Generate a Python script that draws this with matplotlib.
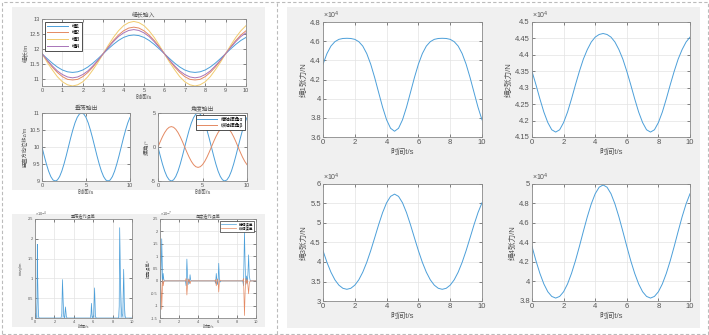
import matplotlib.pyplot as plt
import numpy as np
from matplotlib.patches import Rectangle
from matplotlib.ticker import FuncFormatter

plt.rcParams['font.family'] = ['Liberation Sans', 'Noto Sans CJK SC']
plt.rcParams['axes.unicode_minus'] = False

W, H = 709, 335

# sample times, 0.25 s step over 10 s
t = np.arange(41) * 0.25

# rope length input (m)
rope1 = [11.85, 11.69, 11.54, 11.41, 11.31, 11.25, 11.23, 11.25, 11.31, 11.41, 11.54, 11.69, 11.85, 12.01,
         12.16, 12.29, 12.39, 12.45, 12.47, 12.45, 12.39, 12.29, 12.16, 12.01, 11.85, 11.69, 11.54, 11.41,
         11.31, 11.25, 11.23, 11.25, 11.31, 11.41, 11.54, 11.69, 11.85, 12.01, 12.16, 12.29, 12.39]
rope2 = [11.85, 11.62, 11.41, 11.23, 11.09, 11.00, 10.98, 11.00, 11.09, 11.23, 11.41, 11.62, 11.85, 12.08,
         12.29, 12.47, 12.61, 12.70, 12.73, 12.70, 12.61, 12.47, 12.29, 12.08, 11.85, 11.62, 11.41, 11.23,
         11.09, 11.00, 10.98, 11.00, 11.09, 11.23, 11.41, 11.62, 11.85, 12.08, 12.29, 12.47, 12.61]
rope3 = [11.85, 11.57, 11.32, 11.09, 10.92, 10.82, 10.78, 10.82, 10.92, 11.09, 11.32, 11.57, 11.85, 12.13,
         12.39, 12.61, 12.78, 12.88, 12.92, 12.88, 12.78, 12.61, 12.39, 12.13, 11.85, 11.57, 11.32, 11.09,
         10.92, 10.82, 10.78, 10.82, 10.92, 11.09, 11.32, 11.57, 11.85, 12.13, 12.39, 12.61, 12.78]
rope4 = [11.85, 11.64, 11.45, 11.28, 11.16, 11.08, 11.05, 11.08, 11.16, 11.28, 11.45, 11.64, 11.85, 12.06,
         12.25, 12.42, 12.54, 12.62, 12.65, 12.62, 12.54, 12.42, 12.25, 12.06, 11.85, 11.64, 11.45, 11.28,
         11.16, 11.08, 11.05, 11.08, 11.16, 11.28, 11.45, 11.64, 11.85, 12.06, 12.25, 12.42, 12.54]

# heave output (m)
heave = [10, 9.74, 9.5, 9.29, 9.13, 9.03, 9.0, 9.03, 9.13, 9.29, 9.5, 9.74, 10, 10.26, 10.5, 10.71, 10.87,
         10.97, 11.0, 10.97, 10.87, 10.71, 10.5, 10.26, 10, 9.74, 9.5, 9.29, 9.13, 9.03, 9.0, 9.03, 9.13,
         9.29, 9.5, 9.74, 10, 10.26, 10.5, 10.71, 10.87]

# swing angles (deg)
alpha = [0, -1.29, -2.5, -3.54, -4.33, -4.83, -5, -4.83, -4.33, -3.54, -2.5, -1.29, 0, 1.29, 2.5, 3.54, 4.33,
         4.83, 5, 4.83, 4.33, 3.54, 2.5, 1.29, 0, -1.29, -2.5, -3.54, -4.33, -4.83, -5, -4.83, -4.33, -3.54,
         -2.5, -1.29, 0, 1.29, 2.5, 3.54, 4.33]
beta = [0, 0.78, 1.5, 2.12, 2.6, 2.9, 3, 2.9, 2.6, 2.12, 1.5, 0.78, 0, -0.78, -1.5, -2.12, -2.6, -2.9, -3,
        -2.9, -2.6, -2.12, -1.5, -0.78, 0, 0.78, 1.5, 2.12, 2.6, 2.9, 3, 2.9, 2.6, 2.12, 1.5, 0.78, 0, -0.78,
        -1.5, -2.12, -2.6]

# heave iteration error (x1e-4 m)
herr_t = [0, 0.05, 0.1, 0.14, 0.2, 0.24, 0.28, 0.33, 0.38, 0.45,
          2.68, 2.76, 2.83, 2.9, 2.97, 3.05, 3.14, 3.22, 3.3,
          5.7, 5.77, 5.82, 5.88, 5.95, 6.05, 6.14, 6.22, 6.3,
          8.62, 8.68, 8.73, 8.8, 8.88, 8.96, 9.05, 9.14, 9.2, 9.28, 9.36, 10]
herr = [0, 0.12, 0.0, 0.05, 0.4, 1.86, 0.9, 0.25, 0.02, 0,
        0, 0.1, 0.97, 0.4, 0.05, 0.0, 0.28, 0.05, 0,
        0, 0.1, 0.37, 0.05, 0.0, 0.1, 0.76, 0.05, 0,
        0, 0.3, 2.28, 1.0, 0.3, 0.02, 0.1, 1.23, 0.4, 0.05, 0, 0]

# angle iteration error (x1e-7 deg)
aerr_t = [0, 0.08, 0.13, 0.18, 0.23, 0.28, 0.33, 0.4, 0.5,
          2.65, 2.72, 2.8, 2.86, 2.93, 3.0, 3.07, 3.13, 3.2, 3.3,
          5.72, 5.79, 5.86, 5.92, 5.99, 6.06, 6.12, 6.18, 6.25, 6.35,
          8.62, 8.7, 8.8, 8.87, 8.94, 9.02, 9.1, 9.17, 9.23, 9.3, 9.4, 10]
aerr_a = [0, 0.05, 0.6, 1.7, 0.8, -0.1, 0.3, 0.05, 0,
          0, -0.2, 0.88, 0.3, -0.15, 0.05, -0.1, 0.25, 0.02, 0,
          0, -0.1, 0.3, 0.05, -0.15, 0.1, 0.71, 0.1, -0.05, 0,
          0, -0.2, 1.98, 0.6, -0.15, 0.2, -0.1, 0.4, 1.05, 0.2, 0, 0]
aerr_b = [0, -0.05, -0.4, -1.15, -0.5, 0.05, -0.2, -0.03, 0,
          0, 0.1, -0.57, -0.2, 0.08, -0.03, 0.05, -0.12, -0.01, 0,
          0, 0.05, -0.2, -0.03, 0.08, -0.06, -0.45, -0.05, 0.03, 0,
          0, 0.1, -1.4, -0.4, 0.1, -0.1, 0.05, -0.25, -0.52, -0.1, 0, 0]

# rope tensions (N)
tension1 = [43600, 44710, 45490, 45950, 46190, 46280, 46300, 46280, 46190, 45950, 45490, 44710, 43600, 42200,
            40640, 39100, 37790, 36910, 36600, 36910, 37790, 39100, 40640, 42200, 43600, 44710, 45490, 45950,
            46190, 46280, 46300, 46280, 46190, 45950, 45490, 44710, 43600, 42200, 40640, 39100, 37790]
tension2 = [43500, 43090, 42660, 42260, 41940, 41720, 41650, 41720, 41940, 42260, 42660, 43090, 43500, 43870,
            44160, 44390, 44540, 44620, 44650, 44620, 44540, 44390, 44160, 43870, 43500, 43090, 42660, 42260,
            41940, 41720, 41650, 41720, 41940, 42260, 42660, 43090, 43500, 43870, 44160, 44390, 44540]
tension3 = [42900, 39900, 37380, 35420, 34060, 33260, 33000, 33260, 34060, 35420, 37380, 39900, 42900, 46210,
            49580, 52680, 55190, 56830, 57400, 56830, 55190, 52680, 49580, 46210, 42900, 39900, 37380, 35420,
            34060, 33260, 33000, 33260, 34060, 35420, 37380, 39900, 42900, 46210, 49580, 52680, 55190]
tension4 = [43600, 42130, 40830, 39750, 38950, 38470, 38300, 38470, 38950, 39750, 40830, 42130, 43600, 45140,
            46630, 47950, 49000, 49670, 49900, 49670, 49000, 47950, 46630, 45140, 43600, 42130, 40830, 39750,
            38950, 38470, 38300, 38470, 38950, 39750, 40830, 42130, 43600, 45140, 46630, 47950, 49000]

BLUE = '#4c9fd9'
ORANGE = '#e48a63'
YELLOW = '#f1cb6e'
PURPLE = '#a874b8'
TXT = '#555555'
EDGE = '#8a8a8a'
PANEL = '#f0f0f0'


def box(x0, y0, x1, y1):
    return [x0 / W, 1 - y1 / H, (x1 - x0) / W, (y1 - y0) / H]


def style(ax, fs):
    for s in ax.spines.values():
        s.set_color(EDGE)
        s.set_linewidth(0.6)
    ax.tick_params(direction='in', length=2, width=0.5, colors=TXT, labelsize=fs, pad=1.5,
                   top=True, right=True)
    ax.grid(True, color='#e3e3e3', lw=0.5)
    ax.set_axisbelow(True)
    ax.xaxis.set_major_formatter(FuncFormatter(lambda v, _: f'{v:g}'))
    ax.yaxis.set_major_formatter(FuncFormatter(lambda v, _: f'{v:g}'))


fig = plt.figure(figsize=(W / 100, H / 100), dpi=100)

# grey window backgrounds
for x0, y0, x1, y1 in [(12, 7, 265, 190), (12, 214, 265, 327), (287, 7, 700, 328)]:
    fig.add_artist(Rectangle((x0 / W, 1 - y1 / H), (x1 - x0) / W, (y1 - y0) / H,
                             transform=fig.transFigure, facecolor=PANEL, edgecolor='none', zorder=-2))
# dashed frame and divider
fig.add_artist(Rectangle((1.5 / W, 1.5 / H), (W - 3) / W, (H - 3) / H, transform=fig.transFigure,
                         facecolor='none', edgecolor='#bbbbbb', lw=0.8, ls=(0, (3, 2)), zorder=-1))
fig.add_artist(plt.Line2D([277 / W, 277 / W], [1.5 / H, 1 - 1.5 / H], transform=fig.transFigure,
                          color='#bbbbbb', lw=0.8, ls=(0, (3, 2))))

# --- rope length input
ax = fig.add_axes(box(42, 19, 246, 86))
style(ax, 4)
ax.plot(t, rope1, color=BLUE, lw=0.7, label='绳1')
ax.plot(t, rope2, color=ORANGE, lw=0.7, label='绳2')
ax.plot(t, rope3, color=YELLOW, lw=0.7, label='绳3')
ax.plot(t, rope4, color=PURPLE, lw=0.7, label='绳4')
ax.set_xlim(0, 10)
ax.set_ylim(10.78, 13)
ax.set_xticks(range(11))
ax.set_yticks([11, 11.5, 12, 12.5, 13])
ax.set_title('绳长输入', fontsize=4.2, color=TXT, pad=2)
ax.set_xlabel('时间/s', fontsize=4.2, color=TXT, labelpad=1)
ax.set_ylabel('绳长/m', fontsize=4.2, color=TXT, labelpad=1)
leg = ax.legend(loc='upper left', fontsize=3.8, handlelength=4, borderpad=0.4, labelspacing=0.3,
                fancybox=False, framealpha=1, edgecolor='#333333')
leg.get_frame().set_linewidth(0.6)

# --- heave output
ax = fig.add_axes(box(42, 113, 130, 181))
style(ax, 4)
ax.plot(t, heave, color=BLUE, lw=0.7)
ax.set_xlim(0, 10)
ax.set_ylim(9, 11)
ax.set_xticks([0, 5, 10])
ax.set_yticks([9, 9.5, 10, 10.5, 11])
ax.set_title('垂荡输出', fontsize=4.2, color=TXT, pad=2)
ax.set_xlabel('时间/s', fontsize=4.2, color=TXT, labelpad=1)
ax.set_ylabel('竖直方向位移z/m', fontsize=3.8, color=TXT, labelpad=1)

# --- swing angle output
ax = fig.add_axes(box(158, 113, 247, 181))
style(ax, 4)
ax.plot(t, alpha, color=BLUE, lw=0.7, label='横轴摆角α')
ax.plot(t, beta, color=ORANGE, lw=0.7, label='纵轴摆角β')
ax.set_xlim(0, 10)
ax.set_ylim(-5, 5)
ax.set_xticks([0, 5, 10])
ax.set_yticks([-5, 0, 5])
ax.set_title('角度输出', fontsize=4.2, color=TXT, pad=2)
ax.set_xlabel('时间/s', fontsize=4.2, color=TXT, labelpad=1)
ax.set_ylabel('摆角/°', fontsize=4.2, color=TXT, labelpad=1)
leg = ax.legend(loc='upper right', fontsize=3.5, handlelength=4, borderpad=0.3, labelspacing=0.2,
                fancybox=False, framealpha=1, edgecolor='#333333')
leg.get_frame().set_linewidth(0.6)

# --- heave iteration error
ax = fig.add_axes(box(35, 219, 132, 318))
style(ax, 2.8)
ax.fill_between(herr_t, herr, color='#cfe5f6', lw=0)
ax.plot(herr_t, herr, color=BLUE, lw=0.5)
ax.set_xlim(0, 10)
ax.set_ylim(0, 2.5)
ax.set_xticks(range(0, 11, 2))
ax.set_yticks([0, 0.5, 1, 1.5, 2, 2.5])
ax.set_title('垂荡迭代误差', fontsize=3, color=TXT, pad=1.5)
ax.set_xlabel('时间/s', fontsize=3, color=TXT, labelpad=1)
ax.set_ylabel('误差z$_g$/m', fontsize=3, color=TXT, labelpad=1)
ax.text(0, 1.005, '×10$^{-4}$', transform=ax.transAxes, fontsize=2.8, color=TXT, va='bottom')

# --- angle iteration error
ax = fig.add_axes(box(160, 219, 256, 318))
style(ax, 2.8)
ax.plot(aerr_t, aerr_a, color=BLUE, lw=0.5, label='横轴误差')
ax.plot(aerr_t, aerr_b, color=ORANGE, lw=0.5, label='纵轴误差')
ax.set_xlim(0, 10)
ax.set_ylim(-1.5, 2.5)
ax.set_xticks(range(0, 11, 2))
ax.set_yticks([-1.5, -1, -0.5, 0, 0.5, 1, 1.5, 2, 2.5])
ax.set_title('角度迭代误差', fontsize=3, color=TXT, pad=1.5)
ax.set_xlabel('时间/s', fontsize=3, color=TXT, labelpad=1)
ax.set_ylabel('摆角误差/°', fontsize=3, color=TXT, labelpad=1)
ax.text(0, 1.005, '×10$^{-7}$', transform=ax.transAxes, fontsize=2.8, color=TXT, va='bottom')
leg = ax.legend(loc='upper right', fontsize=2.6, handlelength=4, borderpad=0.3, labelspacing=0.2,
                fancybox=False, framealpha=1, edgecolor='#333333')
leg.get_frame().set_linewidth(0.5)

# --- rope tensions
tension_axes = [
    ((323, 22, 482, 137), tension1, '绳1张力/N', (36000, 48000), np.arange(36000, 48001, 2000)),
    ((532, 22, 690, 137), tension2, '绳2张力/N', (41500, 45000), np.arange(41500, 45001, 500)),
    ((323, 184, 482, 301), tension3, '绳3张力/N', (30000, 60000), np.arange(30000, 60001, 5000)),
    ((532, 184, 690, 301), tension4, '绳4张力/N', (38000, 50000), np.arange(38000, 50001, 2000)),
]
for rect, vals, ylab, ylim, yt in tension_axes:
    ax = fig.add_axes(box(*rect))
    style(ax, 5.5)
    ax.plot(t, vals, color=BLUE, lw=0.7)
    ax.set_xlim(0, 10)
    ax.set_ylim(*ylim)
    ax.set_xticks(range(0, 11, 2))
    ax.set_yticks(yt)
    ax.yaxis.set_major_formatter(FuncFormatter(lambda v, _: f'{v / 1e4:g}'))
    ax.set_xlabel('时间t/s', fontsize=5.5, color=TXT, labelpad=2)
    ax.set_ylabel(ylab, fontsize=5.5, color=TXT, labelpad=2)
    ax.text(0, 1.01, '×10$^{4}$', transform=ax.transAxes, fontsize=5, color=TXT, va='bottom')

fig.savefig('out.png', dpi=100)
